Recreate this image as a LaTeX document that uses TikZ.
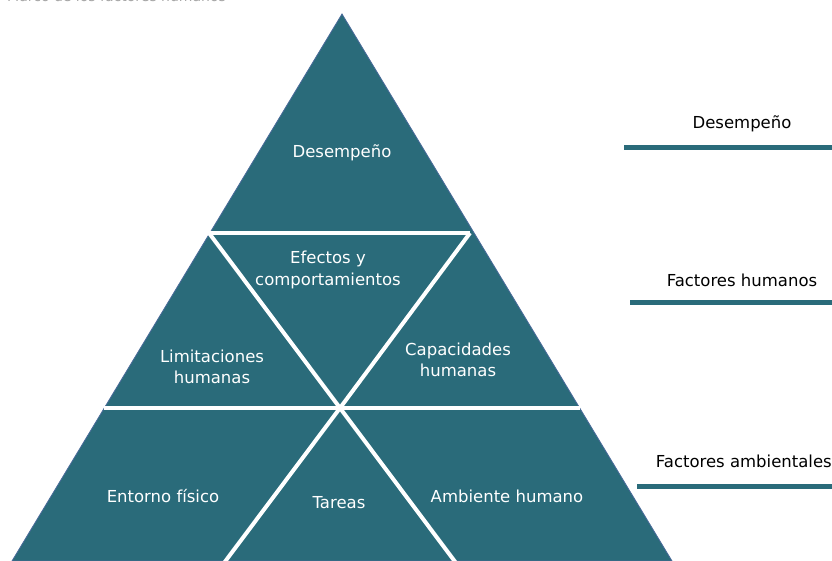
\documentclass[tikz,border=0pt]{standalone}
\usepackage{fontspec}
\setmainfont{DejaVu Sans}
\definecolor{teal1}{HTML}{2A6B7A}
\definecolor{edgeblue}{HTML}{4A6A9A}
\begin{document}
\begin{tikzpicture}[x=1pt,y=-1pt,
  lbl/.style={text=white,font=\fontsize{16.5}{21.5}\selectfont,align=center,inner sep=0pt},
  side/.style={text=black,font=\fontsize{16.5}{20}\selectfont,inner sep=0pt},
  bar/.style={draw=teal1,line width=5pt},
  sep/.style={draw=white,line width=4pt}]
\useasboundingbox (0,0) rectangle (832,561);
\begin{scope}
\clip (0,0) rectangle (832,561);
\node[anchor=base west,text=gray!70,font=\fontsize{14}{16}\selectfont,inner sep=0pt] (title) at (7,1.5) {Marco de los factores humanos};
% pyramid
\coordinate (apex) at (342,14);
\coordinate (bl) at (12,561);
\coordinate (br) at (672,561);
\fill[teal1,draw=edgeblue,line width=0.8pt] (apex) -- (br) -- (bl) -- cycle;
\coordinate (a1) at (209,233);
\coordinate (a2) at (470,233);
\coordinate (c) at (340,408);
\coordinate (h1) at (104,408);
\coordinate (h2) at (580,408);
\coordinate (b1) at (224,563);
\coordinate (b2) at (456,563);
\draw[sep] (a1) -- (a2);
\draw[sep] (h1) -- (h2);
\draw[sep] (a1) -- (c) -- (b2);
\draw[sep] (a2) -- (c) -- (b1);
\end{scope}
% labels inside
\node[lbl] (des) at (342,153) {Desempeño};
\node[lbl] (efe) at (328,270) {Efectos y\\comportamientos};
\node[lbl] (lim) at (212,367) {Limitaciones\\humanas};
\node[lbl] (cap) at (458,360) {Capacidades\\humanas};
\node[lbl] (ent) at (163,496) {Entorno físico};
\node[lbl] (tar) at (339,503) {Tareas};
\node[lbl] (amb) at (507,496) {Ambiente humano};
% side
\node[side] (s1) at (742,124) {Desempeño};
\node[side] (s2) at (742,280) {Factores humanos};
\node[side,anchor=east] (s3) at (832,461) {Factores ambientales};
\coordinate (r1a) at (624,148); \coordinate (r1b) at (832,148);
\coordinate (r2a) at (630,302); \coordinate (r2b) at (832,302);
\coordinate (r3a) at (637,486); \coordinate (r3b) at (832,486);
\draw[bar] (r1a) -- (r1b);
\draw[bar] (r2a) -- (r2b);
\draw[bar] (r3a) -- (r3b);
\end{tikzpicture}
\end{document}
